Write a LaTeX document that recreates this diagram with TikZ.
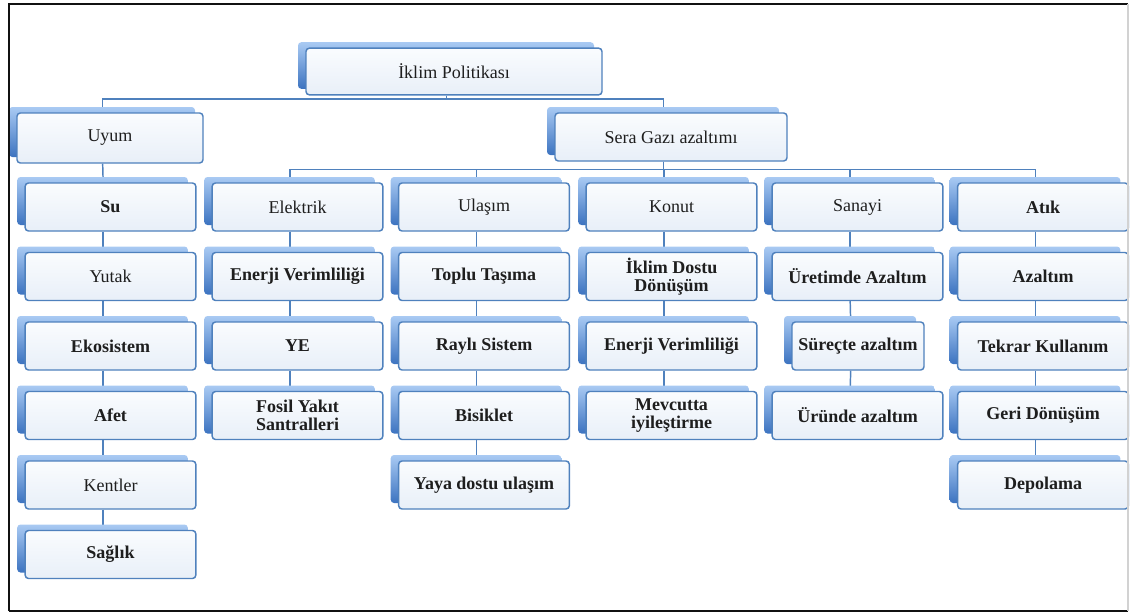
\documentclass[tikz,border=0pt]{standalone}
\usepackage{fontspec}
\setmainfont{Liberation Serif}
\usetikzlibrary{shadows,backgrounds}
\definecolor{frame}{HTML}{111111}
\definecolor{edge}{HTML}{4F81BD}
\definecolor{shtop}{HTML}{A9CAF3}
\definecolor{shbot}{HTML}{3C73C0}
\definecolor{boxtop}{HTML}{FAFCFE}
\definecolor{boxbot}{HTML}{E8EFF8}
\definecolor{ink}{HTML}{1E1E1E}
\tikzset{
  item/.style={draw=edge, line width=1.1pt, rounded corners=2.5pt,
    top color=boxtop, bottom color=boxbot, text=ink,
    minimum width=128pt, minimum height=36pt, inner sep=1pt, align=center,
    font=\fontsize{13.5}{14}\selectfont,
    general shadow={shadow xshift=-6pt, shadow yshift=4.5pt,
      top color=shtop, bottom color=shbot, draw=none}},
  strong/.style={font=\fontsize{13.5}{14}\selectfont\bfseries},
  link/.style={draw=edge, line width=1.1pt}
}

\begin{document}
\begin{tikzpicture}[x=0.75pt, y=-0.75pt]
  \useasboundingbox (0,0) rectangle (1130,614);
  \def\sh{-5.5pt}

  % top levels
  \node[item, minimum width=222pt, minimum height=35pt] (root) at (454,71.5) {İklim Politikası};
  \node[item, minimum width=139.5pt, minimum height=37.5pt] (uyum) at (110,138) {Uyum};
  \node[item, minimum width=174pt] (sera) at (671,137) {Sera Gazı azaltımı};

  % uyum column
  \node[item, strong] (su)        at (110.5,207)   {Su};
  \node[item]         (yutak)     at (110.5,276.5) {Yutak};
  \node[item, strong] (ekosistem) at (110.5,346)   {Ekosistem};
  \node[item, strong] (afet)      at (110.5,415.5) {Afet};
  \node[item]         (kentler)   at (110.5,485)   {Kentler};
  \node[item, strong] (saglik)    at (110.5,554.5) {Sağlık};

  % elektrik
  \node[item]         (elektrik)  at (297.5,207)   {Elektrik};
  \node[item, strong] (enerji)    at (297.5,276.5) {Enerji Verimliliği};
  \node[item, strong] (ye)        at (297.5,346)   {YE};
  \node[item, strong] (fosil)     at (297.5,415.5) {Fosil Yakıt\\Santralleri};

  % ulasim
  \node[item]         (ulasim)    at (484,207)   {Ulaşım};
  \node[item, strong] (toplu)     at (484,276.5) {Toplu Taşıma};
  \node[item, strong] (rayli)     at (484,346)   {Raylı Sistem};
  \node[item, strong] (bisiklet)  at (484,415.5) {Bisiklet};
  \node[item, strong] (yaya)      at (484,485)   {Yaya dostu ulaşım};

  % konut
  \node[item]         (konut)     at (671.5,207)   {Konut};
  \node[item, strong] (donusum)   at (671.5,276.5) {İklim Dostu\\Dönüşüm};
  \node[item, strong] (verim)     at (671.5,346)   {Enerji Verimliliği};
  \node[item, strong] (mevcut)    at (671.5,415.5) {Mevcutta\\iyileştirme};

  % sanayi
  \node[item]         (sanayi)    at (857.5,207)   {Sanayi};
  \node[item, strong] (uretim)    at (857.5,276.5) {Üretimde Azaltım};
  \node[item, strong, minimum width=99pt] (surec) at (858,346) {Süreçte azaltım};
  \node[item, strong] (urun)      at (857.5,415.5) {Üründe azaltım};

  % atik
  \node[item, strong] (atik)      at (1043,207)   {Atık};
  \node[item, strong] (azaltim)   at (1043,276.5) {Azaltım};
  \node[item, strong] (tekrar)    at (1043,346)   {Tekrar Kullanım};
  \node[item, strong] (geri)      at (1043,415.5) {Geri Dönüşüm};
  \node[item, strong] (depolama)  at (1043,485)   {Depolama};

  \begin{scope}[on background layer]
    \draw[link] ([xshift=\sh]root.south) -- ++(0,3.5) -| ([xshift=\sh]uyum.north);
    \draw[link] ([xshift=\sh]root.south) -- ++(0,3.5) -| ([xshift=\sh]sera.north);
    \foreach \k in {elektrik,ulasim,konut,sanayi,atik}
      \draw[link] ([xshift=\sh]sera.south) -- ++(0,7.5) -| ([xshift=\sh]\k.north);
    \foreach \a/\b in {uyum/su,su/yutak,yutak/ekosistem,ekosistem/afet,afet/kentler,kentler/saglik,
      elektrik/enerji,enerji/ye,ye/fosil,
      ulasim/toplu,toplu/rayli,rayli/bisiklet,bisiklet/yaya,
      konut/donusum,donusum/verim,verim/mevcut,
      sanayi/uretim,uretim/surec,surec/urun,
      atik/azaltim,azaltim/tekrar,tekrar/geri,geri/depolama}
      \draw[link] ([xshift=\sh]\a.south) -- ([xshift=\sh]\b.north);
  \end{scope}

  % frame
  \draw[frame, line width=1.6pt] (9,611) -- (9,4) -- (1128,4);
  \draw[frame, line width=1.8pt] (9,611) -- (1128,611);
  \draw[gray!35, line width=1pt] (1128,4) -- (1128,611);
\end{tikzpicture}
\end{document}
